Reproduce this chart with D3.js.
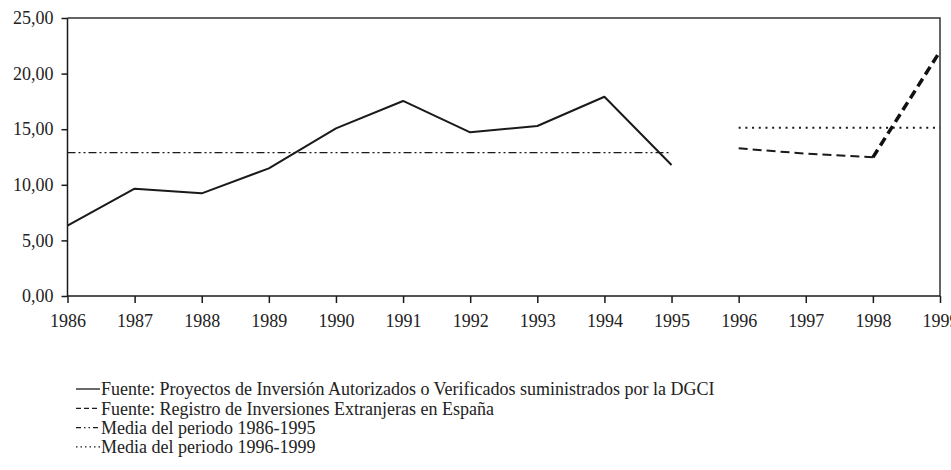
<!DOCTYPE html>
<html>
<head>
<meta charset="utf-8">
<script src="https://cdn.jsdelivr.net/npm/d3@7"></script>
<style>
  html, body { margin: 0; padding: 0; background: #fff; }
  svg { display: block; }
  text { font-family: "Liberation Serif", "Times New Roman", serif; fill: #222; }
</style>
</head>
<body>
<svg id="chart" width="951" height="470"></svg>
<script>
// ---- data ----
const years = [1986, 1987, 1988, 1989, 1990, 1991, 1992, 1993, 1994, 1995, 1996, 1997, 1998, 1999];
const dgciYears = [1986, 1987, 1988, 1989, 1990, 1991, 1992, 1993, 1994, 1995];
const dgciValues = [6.32, 9.65, 9.23, 11.48, 15.08, 17.54, 14.72, 15.29, 17.92, 11.78];
const registroYears = [1996, 1997, 1998, 1999];
const registroValues = [13.28, 12.80, 12.47, 22.00];
const media1 = { from: 1986, to: 1995, value: 12.90 };
const media2 = { from: 1996, to: 1999, value: 15.14 };
const yTicks = [0, 5, 10, 15, 20, 25];
const legendLabels = [
  "Fuente: Proyectos de Inversión Autorizados o Verificados suministrados por la DGCI",
  "Fuente: Registro de Inversiones Extranjeras en España",
  "Media del periodo 1986-1995",
  "Media del periodo 1996-1999"
];

// ---- layout ----
const svg = d3.select("#chart");
const x = d3.scaleLinear().domain([1986, 1999]).range([67.5, 940]);
const y = d3.scaleLinear().domain([0, 25]).range([296, 18]);
const ink = "#1a1a1a";
const fmt = v => d3.format(".2f")(v).replace(".", ",");

// frame (top + right)
svg.append("path")
  .attr("d", `M${x(1986)},${y(25)}H${x(1999)}V${y(0)}`)
  .attr("fill", "none").attr("stroke", "#333").attr("stroke-width", 1.5);

// y axis
const yAxis = svg.append("g").attr("transform", `translate(${x(1986)},0)`)
  .call(d3.axisLeft(y).tickValues(yTicks).tickFormat(fmt).tickSize(6).tickPadding(8));
// x axis
const xAxis = svg.append("g").attr("transform", `translate(0,${y(0)})`)
  .call(d3.axisBottom(x).tickValues(years).tickFormat(d3.format("d")).tickSize(7).tickPadding(11));

[yAxis, xAxis].forEach(g => {
  g.select(".domain").attr("stroke", ink).attr("stroke-width", 1.5);
  g.selectAll(".tick line").attr("stroke", ink).attr("stroke-width", 1.5);
  g.selectAll(".tick text").style("font-family", '"Liberation Serif", serif')
    .style("font-size", "18px").attr("fill", "#222");
});
xAxis.select(".domain").attr("d", `M${x(1986)},0H${x(1999)}`);
yAxis.select(".domain").attr("d", `M0,${y(25)}V${y(0)}`);

const line = d3.line().x(d => x(d[0])).y(d => y(d[1]));

// mean 1986-1995 (dash-dot-dot)
svg.append("path")
  .attr("d", line([[media1.from, media1.value], [media1.to, media1.value]]))
  .attr("fill", "none").attr("stroke", ink).attr("stroke-width", 1.3)
  .attr("stroke-dasharray", "8,3,2,3,2,3");

// mean 1996-1999 (dotted)
svg.append("path")
  .attr("d", line([[media2.from, media2.value], [media2.to, media2.value]]))
  .attr("fill", "none").attr("stroke", ink).attr("stroke-width", 2)
  .attr("stroke-dasharray", "2,4.7");

// DGCI solid line
svg.append("path")
  .attr("d", line(dgciYears.map((yr, i) => [yr, dgciValues[i]])))
  .attr("fill", "none").attr("stroke", ink).attr("stroke-width", 2)
  .attr("stroke-linejoin", "round");

// Registro dashed line (thin part 1996-1998, thick 1998-1999)
const reg = registroYears.map((yr, i) => [yr, registroValues[i]]);
svg.append("path")
  .attr("d", line(reg.slice(0, 3)))
  .attr("fill", "none").attr("stroke", ink).attr("stroke-width", 2)
  .attr("stroke-dasharray", "9,5");
svg.append("path")
  .attr("d", line(reg.slice(2)))
  .attr("fill", "none").attr("stroke", "#111").attr("stroke-width", 3.5)
  .attr("stroke-dasharray", "9,5");

// ---- legend ----
const legendDash = [null, "5,3", "5,3,1.5,3,1.5,3", "1.5,3"];
const legend = svg.append("g");
legendLabels.forEach((lab, i) => {
  const cy = 389 + i * 19.3;
  legend.append("line")
    .attr("x1", 76).attr("x2", 100).attr("y1", cy).attr("y2", cy)
    .attr("stroke", ink).attr("stroke-width", 1.3)
    .attr("stroke-dasharray", legendDash[i]);
  legend.append("text")
    .attr("x", 101).attr("y", cy).attr("dy", "0.35em")
    .style("font-size", "18px")
    .text(lab);
});
</script>
</body>
</html>
